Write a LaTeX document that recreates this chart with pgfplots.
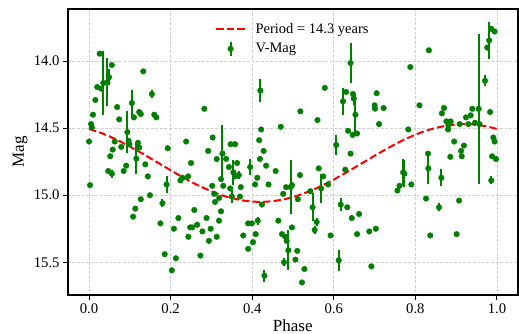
\documentclass[border=0pt]{standalone}
\usepackage{pgfplots}
\pgfplotsset{compat=1.18}
\usepackage{pgfplotstable}
\usepackage{fontspec}
\setmainfont{Liberation Serif}

\definecolor{mplgreen}{HTML}{008000}
\definecolor{gridgray}{HTML}{D0D0D0}

% V-band photometry folded on the 14.3 yr period: phase, magnitude, error
\pgfplotstableread{
p m e
0.026 13.945 0
0.035 14.164 0.236
0.045 14.158 0.18
0.049 14.12 0.06
0.056 14.03 0
0.020 14.194 0
0.030 14.206 0
0.0155 14.29 0
0.0098 14.40 0
0.005 14.47 0
0.007 14.495 0
0.000 14.60 0
0.069 14.343 0
0.074 14.435 0
0.105 14.313 0.10
0.110 14.42 0.02
0.123 14.38 0
0.127 14.395 0
0.133 14.077 0
0.154 14.246 0.03
0.160 14.40 0
0.165 14.42 0
0.094 14.53 0.155
0.097 14.595 0
0.063 14.60 0
0.058 14.66 0
0.079 14.64 0
0.099 14.62 0
0.120 14.61 0.02
0.123 14.645 0
0.193 14.65 0
0.052 14.71 0
0.047 14.82 0
0.056 14.84 0.03
0.0025 14.925 0
0.085 14.82 0
0.091 14.78 0
0.116 14.727 0.115
0.138 14.77 0
0.144 14.86 0
0.190 14.92 0.06
0.224 14.89 0
0.1495 15.00 0
0.127 15.03 0
0.1135 15.10 0
0.108 15.16 0
0.180 15.06 0.03
0.175 15.21 0
0.219 15.17 0
0.208 15.25 0
0.1855 15.44 0
0.213 15.47 0
0.203 15.56 0
0.229 14.87 0
0.420 14.22 0.083
0.2826 14.356 0
0.470 14.49 0
0.422 14.51 0
0.238 14.60 0
0.303 14.57 0
0.292 14.67 0
0.347 14.62 0
0.358 14.62 0
0.417 14.59 0
0.428 14.67 0
0.327 14.69 0.21
0.3235 14.88 0
0.250 14.76 0
0.243 14.86 0
0.313 14.73 0
0.343 14.79 0
0.363 14.76 0
0.354 14.83 0.095
0.367 14.85 0.03
0.3585 14.86 0
0.372 14.94 0
0.302 14.93 0
0.307 14.99 0
0.309 15.05 0
0.319 15.02 0
0.346 14.95 0
0.350 15.01 0.05
0.370 15.01 0
0.395 14.79 0.062
0.419 14.73 0
0.434 14.78 0
0.4125 14.87 0
0.407 14.92 0
0.440 14.92 0
0.4575 14.82 0
0.424 15.07 0
0.258 15.11 0
0.3235 15.12 0
0.288 15.17 0
0.3186 15.19 0
0.265 15.22 0
0.248 15.24 0
0.253 15.24 0
0.298 15.25 0
0.278 15.27 0
0.2435 15.31 0
0.313 15.31 0
0.294 15.34 0
0.273 15.45 0
0.378 15.30 0
0.390 15.21 0
0.399 15.21 0
0.4135 15.19 0.03
0.4085 15.29 0
0.402 15.35 0
0.390 15.40 0
0.430 15.60 0.045
0.464 15.19 0
0.473 15.29 0
0.478 15.50 0.03
0.481 15.31 0
0.4845 15.34 0
0.4885 15.41 0.15
0.494 14.94 0.20
0.483 14.94 0
0.476 14.99 0
0.336 14.73 0
0.329 14.93 0
0.641 14.015 0.15
0.578 14.20 0
0.518 14.375 0
0.560 14.44 0
0.6225 14.30 0.10
0.630 14.23 0
0.647 14.246 0
0.649 14.28 0.044
0.653 14.40 0.149
0.705 14.24 0
0.700 14.33 0
0.701 14.355 0
0.722 14.35 0
0.711 14.47 0
0.635 14.52 0
0.646 14.55 0
0.657 14.54 0
0.606 14.626 0.076
0.641 14.69 0
0.563 14.80 0
0.517 14.85 0
0.628 14.81 0
0.569 14.95 0.11
0.574 14.86 0
0.586 14.92 0
0.5425 14.97 0
0.512 15.03 0
0.4975 14.925 0
0.548 15.09 0.105
0.558 15.20 0.03
0.553 15.26 0.03
0.592 15.30 0
0.617 15.07 0.05
0.633 15.09 0
0.644 15.17 0
0.662 15.14 0
0.657 15.29 0
0.687 15.27 0.02
0.703 15.25 0
0.612 15.485 0.08
0.692 15.53 0
0.5105 15.415 0
0.506 15.48 0
0.528 15.55 0
0.522 15.65 0
0.4975 15.24 0
0.756 14.965 0
0.761 14.93 0
0.770 14.83 0.10
0.773 14.84 0.10
0.790 14.92 0
0.8317 14.80 0.12
0.8636 14.87 0.065
0.8856 14.714 0
0.912 14.67 0
0.9135 14.71 0
0.988 14.71 0
0.9975 14.73 0
0.986 14.89 0.03
0.826 15.025 0
0.858 15.09 0.03
0.907 15.04 0
0.8365 15.30 0
0.901 15.29 0
0.833 13.92 0
0.7875 14.045 0
0.810 14.33 0
0.7826 14.51 0
0.870 14.35 0
0.865 14.39 0
0.876 14.45 0
0.8865 14.45 0
0.881 14.48 0
0.880 14.51 0
0.9085 14.47 0
0.924 14.42 0
0.9355 14.405 0
0.9395 14.356 0
0.930 14.47 0
0.946 14.46 0
0.957 14.47 0
0.955 14.356 0.557
0.983 14.38 0
0.981 13.846 0.137
0.976 13.90 0
0.986 13.76 0
0.994 13.78 0
0.9706 14.147 0.04
0.895 14.60 0
0.919 14.63 0
0.991 14.57 0
0.994 14.60 0
0.831 14.69 0
}\vmag

% Sinusoidal fit, period 14.3 yr, tabulated over one cycle
\pgfplotstableread{
p m
0.000 14.506
0.025 14.531
0.050 14.561
0.075 14.597
0.100 14.637
0.125 14.679
0.150 14.724
0.175 14.769
0.200 14.814
0.225 14.858
0.250 14.900
0.275 14.938
0.300 14.971
0.325 15.000
0.350 15.022
0.375 15.038
0.400 15.048
0.425 15.050
0.450 15.045
0.475 15.033
0.500 15.014
0.525 14.989
0.550 14.958
0.575 14.923
0.600 14.883
0.625 14.841
0.650 14.796
0.675 14.751
0.700 14.706
0.725 14.662
0.750 14.620
0.775 14.582
0.800 14.549
0.825 14.520
0.850 14.498
0.875 14.482
0.900 14.472
0.925 14.470
0.950 14.475
0.975 14.487
1.000 14.506
}\fit

\begin{document}
\begin{tikzpicture}
\begin{axis}[
  scale only axis,
  width=450pt, height=286.6pt,
  xmin=-0.052, xmax=1.051,
  ymin=13.61, ymax=15.746,
  y dir=reverse,
  xtick={0,0.2,0.4,0.6,0.8,1.0},
  ytick={14,14.5,15,15.5},
  xticklabel style={/pgf/number format/.cd, fixed, fixed zerofill, precision=1},
  yticklabel style={/pgf/number format/.cd, fixed, fixed zerofill, precision=1},
  /pgf/number format/assume math mode=true,
  tick label style={font=\fontsize{14.7}{17}\selectfont, black},
  tick pos=left,
  tick align=outside,
  major tick length=4.7pt,
  every tick/.style={black, line width=1pt},
  axis line style={black, line width=2pt},
  grid=major,
  major grid style={gridgray, line width=0.8pt, dash pattern=on 3pt off 1.6pt},
  xlabel={Phase},
  ylabel={Mag},
  label style={font=\fontsize{17}{20}\selectfont},
  xlabel style={at={(axis description cs:0.5,0)}, anchor=base, inner sep=0pt, yshift=-36pt},
  ylabel style={at={(axis description cs:-0.106,0.5)}, anchor=center},
  legend style={
    at={(0.5,1)}, anchor=north, yshift=-10.8pt,
    draw=none, fill=none,
    font=\fontsize{14.5}{17}\selectfont,
    row sep=3.6pt,
    /tikz/every odd column/.append style={column sep=7.5pt},
  },
  legend cell align=left,
]
% corners of the plotting frame, used for the page size below
\coordinate (frameBL) at (axis cs:-0.052,15.746);
\coordinate (frameTR) at (axis cs:1.051,13.61);

\addplot[
  red, line width=2pt, dash pattern=on 7.4pt off 3.2pt,
  legend image code/.code={\draw[red, line width=2pt, dash pattern=on 7.4pt off 3.2pt] (0pt,0pt) -- (29pt,0pt);},
] table[x=p, y=m] {\fit};
\addlegendentry{Period = 14.3 years}

\addplot[
  only marks, mark=*, mark size=2.8pt,
  color=mplgreen, mark options={fill=mplgreen, draw=mplgreen},
  legend image code/.code={
    \draw[mplgreen, line width=2pt] (14.5pt,-7pt) -- (14.5pt,7pt);
    \fill[mplgreen] (14.5pt,0pt) circle (2.8pt);},
  error bars/.cd, y dir=both, y explicit,
  error mark=none, error bar style={line width=2pt, mplgreen},
] table[x=p, y=m, y error=e] {\vmag};
\addlegendentry{V-Mag}
\end{axis}
\pgfresetboundingbox
\path ([shift={(-67.8pt,-38.7pt)}]frameBL) rectangle ([shift={(1.2pt,8.7pt)}]frameTR);
\end{tikzpicture}
\end{document}
